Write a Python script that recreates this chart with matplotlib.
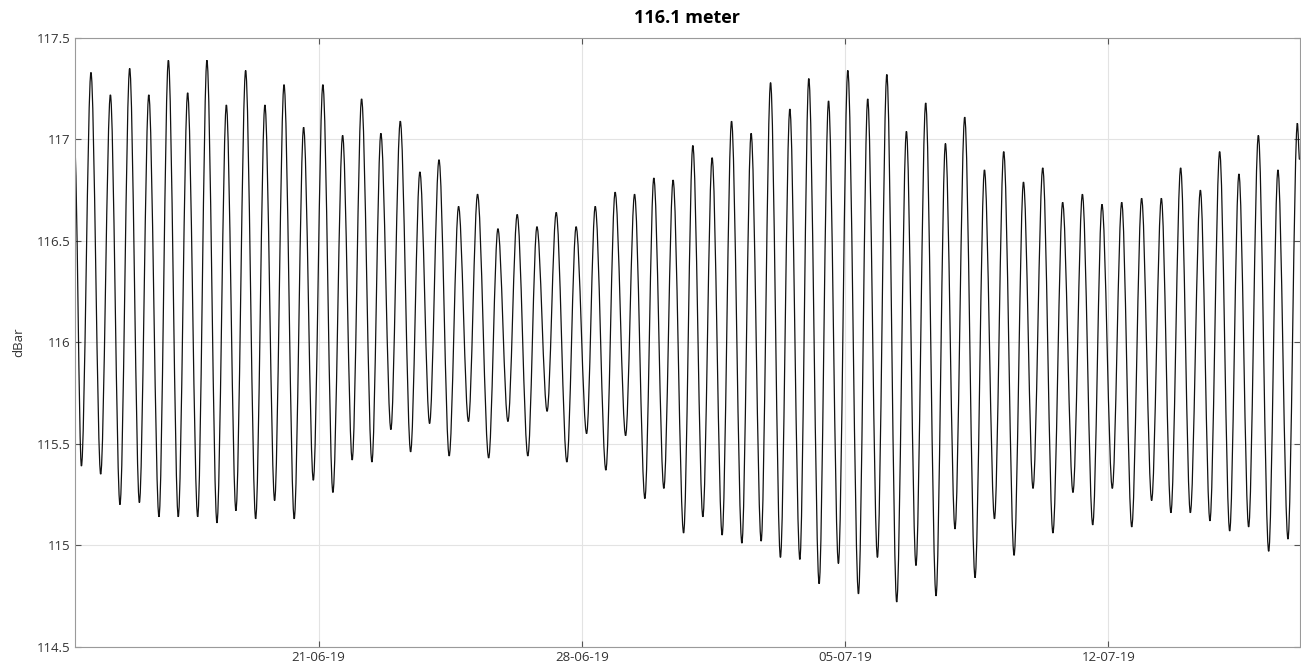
#수압 센서 데이터 (116.1 m) - 조석 변동
#그림에서 읽은 고조/저조 값을 곡선으로 이어서 그림

import numpy as np
import matplotlib.pyplot as plt
import matplotlib.dates as mdates
from matplotlib.path import Path
from matplotlib.patches import PathPatch

# 기준 시각: 2019-06-14 00:00, 시간 단위 (고조/저조 시각)
start = '2019-06-14T00:00'
hours = [12.3, 16.6, 22.7, 28.9, 35.1, 41.2, 47.4, 53.6, 59.6, 66.1,
         72.1, 78.4, 84.4, 90.8, 96.7, 103.1, 109.1, 115.2, 121.4, 127.8,
         133.7, 139.9, 145.9, 152.4, 158.4, 164.6, 170.7, 177.1, 183.3, 189.4,
         195.4, 202.0, 207.7, 214.1, 220.1, 226.7, 232.6, 238.8, 244.8, 251.3,
         257.3, 263.6, 269.4, 276.5, 282.4, 288.8, 294.7, 301.5, 307.3, 313.8,
         319.6, 326.4, 332.3, 339.0, 344.5, 351.3, 357.2, 363.9, 369.6, 376.2,
         381.9, 388.3, 394.2, 400.9, 406.8, 413.2, 419.1, 425.5, 431.5, 438.1,
         444.0, 450.4, 456.4, 462.7, 468.7, 475.1, 480.8, 487.4, 493.4, 499.7,
         505.7, 512.5, 518.4, 524.6, 530.6, 536.9, 543.1, 549.2, 555.4, 562.0,
         568.0, 574.1, 580.3, 586.9, 592.9, 599.3, 605.2, 611.8, 617.8, 623.9,
         630.1, 636.6, 642.8, 649.4, 655.4, 662.0, 667.9, 674.5, 680.5, 686.9,
         693.2, 699.6, 705.8, 711.9, 718.1, 724.3, 730.7, 736.8, 743.0, 749.4,
         755.3, 761.5, 767.7, 774.3, 780.2, 786.6, 792.6, 794.0]

dbar = [116.96, 115.39, 117.33, 115.35, 117.22, 115.20, 117.35, 115.21, 117.22, 115.14,
        117.39, 115.14, 117.23, 115.14, 117.39, 115.11, 117.17, 115.17, 117.34, 115.13,
        117.17, 115.22, 117.27, 115.13, 117.06, 115.32, 117.27, 115.26, 117.02, 115.42,
        117.20, 115.41, 117.03, 115.57, 117.09, 115.46, 116.84, 115.60, 116.90, 115.44,
        116.67, 115.61, 116.73, 115.43, 116.56, 115.61, 116.63, 115.44, 116.57, 115.66,
        116.64, 115.41, 116.57, 115.55, 116.67, 115.37, 116.74, 115.54, 116.73, 115.23,
        116.81, 115.28, 116.80, 115.06, 116.97, 115.14, 116.91, 115.05, 117.09, 115.01,
        117.03, 115.02, 117.28, 114.94, 117.15, 114.93, 117.30, 114.81, 117.19, 114.91,
        117.34, 114.76, 117.20, 114.94, 117.32, 114.72, 117.04, 114.90, 117.18, 114.75,
        116.98, 115.08, 117.11, 114.84, 116.85, 115.13, 116.94, 114.95, 116.79, 115.28,
        116.86, 115.06, 116.69, 115.26, 116.73, 115.10, 116.68, 115.28, 116.69, 115.09,
        116.71, 115.22, 116.71, 115.16, 116.86, 115.16, 116.75, 115.12, 116.94, 115.07,
        116.83, 115.09, 117.02, 114.97, 116.85, 115.03, 117.08, 116.90]

tick_dates = ['2019-06-21', '2019-06-28', '2019-07-05', '2019-07-12']

plt.rcParams['font.family'] = ['Open Sans', 'DejaVu Sans']

t = mdates.date2num(np.datetime64(start)) + np.array(hours) / 24.0
v = np.array(dbar)

# 극값 사이를 수평 접선 베지어 곡선으로 연결
verts = [(t[0], v[0])]
codes = [Path.MOVETO]
for i in range(1, len(t)):
    dt = t[i] - t[i - 1]
    verts += [(t[i - 1] + dt / 3, v[i - 1]), (t[i] - dt / 3, v[i]), (t[i], v[i])]
    codes += [Path.CURVE4] * 3

fig = plt.figure(figsize=(13.01, 6.66), dpi=100)
ax = fig.add_axes([0.0574, 0.029, 0.9415, 0.914])

patch = PathPatch(Path(verts, codes), facecolor='none', edgecolor='#111111', lw=0.9)
ax.add_patch(patch)

ax.set_xlim(t[0], t[-1])
ax.set_ylim(114.5, 117.5)
ax.set_yticks([114.5, 115, 115.5, 116, 116.5, 117, 117.5])
ax.set_yticklabels(['114.5', '115', '115.5', '116', '116.5', '117', '117.5'])
ax.set_xticks(mdates.date2num(np.array(tick_dates, dtype='datetime64[D]')))
ax.xaxis.set_major_formatter(mdates.DateFormatter('%d-%m-%y'))

ax.grid(True, color='#e3e3e3', lw=0.8)
ax.set_axisbelow(True)
for s in ax.spines.values():
    s.set_color('#9a9a9a')
    s.set_linewidth(0.8)
ax.tick_params(direction='in', top=True, right=True, length=4, color='#555555',
               labelsize=9.5, labelcolor='#333333', pad=3)

ax.set_ylabel('dBar', fontsize=9.5, color='#333333', labelpad=8)
ax.set_title('116.1 meter', fontsize=13, fontweight='bold', pad=11)

fig.savefig('out.png', dpi=100)
